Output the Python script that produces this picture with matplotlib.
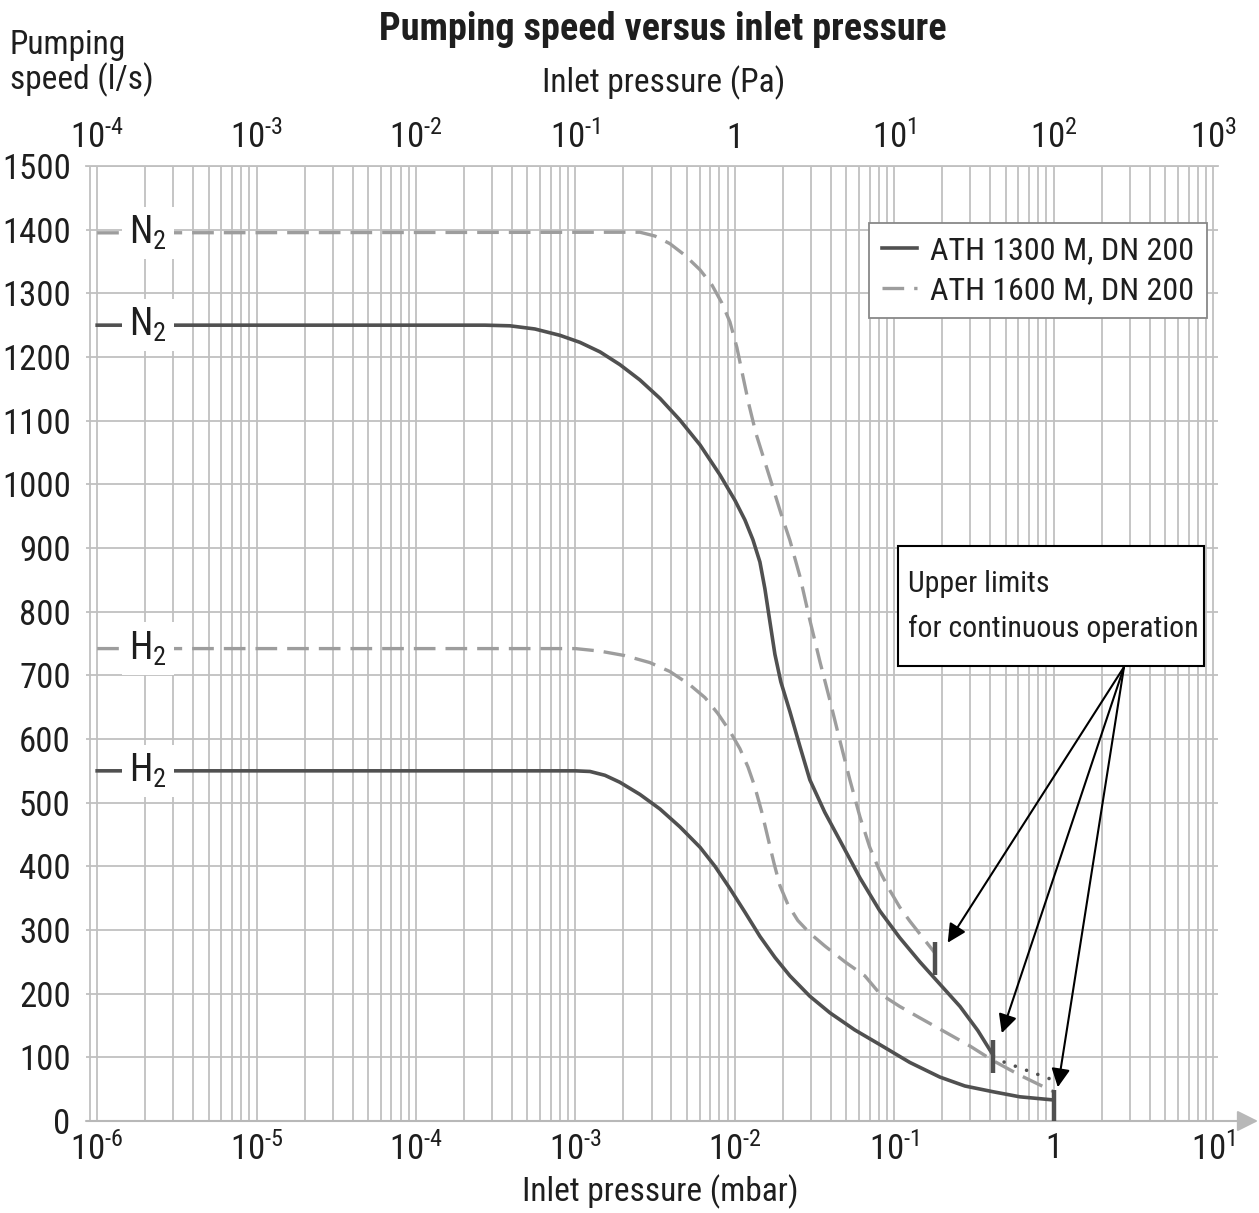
import matplotlib
matplotlib.use("Agg")
import matplotlib.pyplot as plt
from matplotlib.ticker import FixedLocator, LogLocator, NullFormatter, FixedFormatter
from matplotlib.patches import Rectangle

plt.rcParams['font.family'] = ['Roboto Condensed', 'DejaVu Sans']

# ---------------- data (pressure in mbar, speed in l/s) ----------------
p_1300_n2 = [1e-6, 2.71e-4, 3.88e-4, 5.57e-4, 8.0e-4, 1.067e-3, 1.426e-3, 1.90e-3,
             2.535e-3, 3.39e-3, 4.52e-3, 6.04e-3, 8.05e-3, 1.0e-2, 1.156e-2,
             1.297e-2, 1.435e-2, 1.542e-2, 1.656e-2, 1.782e-2, 1.94e-2, 2.213e-2,
             2.56e-2, 2.95e-2, 3.66e-2, 4.55e-2, 6.08e-2, 8.11e-2, 0.108, 0.1445,
             0.193, 0.258, 0.334, 0.415]
s_1300_n2 = [1250, 1250, 1249, 1244, 1234, 1223, 1208, 1188,
             1164, 1135, 1101, 1062, 1015, 975, 944,
             913, 878, 836, 785, 733, 690, 643,
             588, 536, 485, 441, 382, 330, 288, 250,
             215, 180, 142, 104]

p_1300_h2 = [1e-6, 1.0e-3, 1.233e-3, 1.53e-3, 1.90e-3, 2.535e-3, 3.39e-3, 4.52e-3,
             6.04e-3, 7.5e-3, 9.31e-3, 1.156e-2, 1.435e-2, 1.782e-2, 2.213e-2,
             2.95e-2, 3.94e-2, 5.65e-2, 8.11e-2, 0.125, 0.193, 0.277, 0.415,
             0.612, 1.0]
s_1300_h2 = [550, 550, 549, 543, 532, 513, 490, 462,
             430, 400, 365, 328, 290, 257, 228,
             196, 170, 143, 120, 92, 69, 55, 46,
             38, 33]

p_1600_n2 = [1e-6, 2.535e-3, 3.15e-3, 3.91e-3, 4.85e-3, 6.04e-3, 7.18e-3, 8.28e-3,
             9.31e-3, 1.029e-2, 1.122e-2, 1.225e-2, 1.355e-2, 1.52e-2, 1.706e-2,
             1.94e-2, 2.213e-2, 2.56e-2, 2.95e-2, 3.41e-2, 3.94e-2, 4.55e-2,
             5.26e-2, 6.08e-2, 7.01e-2, 8.11e-2, 9.38e-2, 0.108, 0.125, 0.1486,
             0.1795]
s_1600_n2 = [1395, 1396, 1390, 1378, 1360, 1337, 1313, 1285,
             1255, 1215, 1170, 1125, 1080, 1040, 1000,
             955, 912, 855, 787, 722, 661, 598,
             536, 478, 430, 392, 362, 336, 314, 290,
             264]

p_1600_h2 = [1e-6, 1.0e-3, 1.426e-3, 2.04e-3, 2.93e-3, 3.91e-3, 5.22e-3, 6.49e-3,
             7.82e-3, 9.31e-3, 1.074e-2, 1.208e-2, 1.333e-2, 1.475e-2, 1.61e-2,
             1.758e-2, 1.914e-2, 2.15e-2, 2.48e-2, 2.95e-2, 3.66e-2, 4.90e-2,
             6.53e-2, 8.11e-2, 0.108, 0.1445, 0.2075, 0.297, 0.415, 0.612, 1.0]
s_1600_h2 = [742, 742, 738, 731, 720, 706, 685, 665,
             640, 612, 585, 556, 525, 485, 445,
             405, 370, 340, 315, 295, 275, 250,
             228, 200, 180, 162, 140, 118, 95, 72, 46]

# dotted extension of ATH 1300 M (N2)
p_ext = [0.415, 1.0]
s_ext = [99, 64]

# upper limits for continuous operation (vertical bars)
limit_p = [0.1795, 0.415, 1.0]
limit_lo = [229, 75, 0]
limit_hi = [281, 127, 49]
# arrow targets
arrow_p = [0.216, 0.472, 1.06]
arrow_s = [280, 138, 53]

# gas labels
gas_labels = [r'$\mathregular{N_2}$', r'$\mathregular{N_2}$', r'$\mathregular{H_2}$', r'$\mathregular{H_2}$']
gas_levels = [1395, 1250, 742, 550]

HY = '\u2010'
bottom_ticks = [1e-6, 1e-5, 1e-4, 1e-3, 1e-2, 1e-1, 1, 10]
bottom_labels = [r'$\mathregular{10^{%s6}}$' % HY, r'$\mathregular{10^{%s5}}$' % HY,
                 r'$\mathregular{10^{%s4}}$' % HY, r'$\mathregular{10^{%s3}}$' % HY,
                 r'$\mathregular{10^{%s2}}$' % HY, r'$\mathregular{10^{%s1}}$' % HY,
                 '1', r'$\mathregular{10^{1}}$']
top_ticks = [1e-4, 1e-3, 1e-2, 1e-1, 1, 10, 100, 1000]
top_labels = [r'$\mathregular{10^{%s4}}$' % HY, r'$\mathregular{10^{%s3}}$' % HY,
              r'$\mathregular{10^{%s2}}$' % HY, r'$\mathregular{10^{%s1}}$' % HY,
              '1', r'$\mathregular{10^{1}}$', r'$\mathregular{10^{2}}$', r'$\mathregular{10^{3}}$']
y_ticks = list(range(0, 1600, 100))

# ---------------- figure ----------------
W, H = 1259, 1213
fig = plt.figure(figsize=(W / 100, H / 100), dpi=100)


def fx(px):
    return px / W


def fy(py):
    return 1 - py / H


ax = fig.add_axes([fx(86), fy(1121), fx(1218) - fx(86), fy(166) - fy(1121)])
ax.set_xscale('log')
ax.set_xlim(10 ** -6.07, 10 ** 1.03)
ax.set_ylim(0, 1500)

DARK = '#505050'
LIGHT = '#9d9d9d'
GRID = '#c0c0c0'
TXT = '#1e1e1e'

ax.xaxis.set_major_locator(FixedLocator(bottom_ticks))
ax.xaxis.set_major_formatter(FixedFormatter(bottom_labels))
ax.xaxis.set_minor_locator(LogLocator(base=10, subs=range(2, 10), numticks=30))
ax.xaxis.set_minor_formatter(NullFormatter())
ax.yaxis.set_major_locator(FixedLocator(y_ticks))
ax.set_yticklabels([str(v) for v in y_ticks])
ax.grid(which='major', axis='both', color=GRID, lw=1.3, zorder=0)
ax.grid(which='minor', axis='x', color=GRID, lw=1.3, zorder=0)
ax.set_axisbelow(True)
ax.tick_params(axis='both', which='both', length=0, labelcolor=TXT)
ax.tick_params(axis='x', which='major', labelsize=25, pad=8)
ax.tick_params(axis='y', which='major', labelsize=25, pad=11)

for side in ['left', 'right', 'bottom']:
    ax.spines[side].set_visible(False)
ax.spines['top'].set_color(GRID)
ax.spines['top'].set_linewidth(1.3)

# curves
ax.plot(p_1300_n2, s_1300_n2, color=DARK, lw=2.6, zorder=3, label='ATH 1300 M, DN 200')
ax.plot(p_1300_h2, s_1300_h2, color=DARK, lw=2.6, zorder=3)
ax.plot(p_1600_n2, s_1600_n2, color=LIGHT, lw=2.4, zorder=3, dashes=(6.5, 3),
        label='ATH 1600 M, DN 200')
ax.plot(p_1600_h2, s_1600_h2, color=LIGHT, lw=2.4, zorder=3, dashes=(6.5, 3))
ax.plot(p_ext, s_ext, color=DARK, lw=2.6, zorder=3, linestyle=(0, (0.01, 3.3)),
        dash_capstyle='round')

for p, lo, hi in zip(limit_p, limit_lo, limit_hi):
    ax.plot([p, p], [lo, hi], color=DARK, lw=3.2, zorder=4, solid_capstyle='butt', clip_on=False)

# gas labels with white background
for lab, lev in zip(gas_labels, gas_levels):
    ax.text(10 ** -5.68, lev, lab, fontsize=27, ha='center', va='center', zorder=5,
            color=TXT, bbox=dict(facecolor='white', edgecolor='none', pad=5))

# legend
leg = ax.legend(loc='upper right', bbox_to_anchor=(fx(1207), fy(223)),
                bbox_transform=fig.transFigure, borderaxespad=0,
                fontsize=23, handlelength=1.1, handletextpad=0.4,
                frameon=True, fancybox=False, borderpad=0.4, labelspacing=0.35,
                edgecolor='#888888', framealpha=1)
leg.get_frame().set_linewidth(1.3)
leg.set_zorder(6)
for t in leg.get_texts():
    t.set_color(TXT)

# annotation box
rect = Rectangle((fx(898), fy(666)), fx(1204) - fx(898), fy(546) - fy(666),
                 transform=fig.transFigure, facecolor='white', edgecolor='black',
                 lw=1.5, zorder=6)
fig.patches.append(rect)
fig.text(fx(908), fy(584), 'Upper limits', fontsize=21.5, ha='left', va='center', zorder=7,
         color=TXT)
fig.text(fx(908), fy(629), 'for continuous operation', fontsize=21.5, ha='left', va='center',
         zorder=7, color=TXT)

for p, s in zip(arrow_p, arrow_s):
    ax.annotate('', xy=(p, s), xycoords='data', xytext=(fx(1124), fy(667)),
                textcoords='figure fraction',
                arrowprops=dict(arrowstyle='-|>', color='black', lw=1.5,
                                mutation_scale=28, shrinkA=0, shrinkB=0),
                zorder=7, annotation_clip=False)

# bottom axis line with arrow
ax.annotate('', xy=(fx(1258), fy(1121)), xycoords='figure fraction',
            xytext=(fx(86), fy(1121)), textcoords='figure fraction',
            arrowprops=dict(arrowstyle='-|>', color='#b8b8b8', lw=1.5,
                            mutation_scale=32, shrinkA=0, shrinkB=0),
            annotation_clip=False)

# top axis (Pa)
secax = ax.secondary_xaxis('top', functions=(lambda x: x * 100, lambda x: x / 100))
secax.xaxis.set_major_locator(FixedLocator(top_ticks))
secax.xaxis.set_major_formatter(FixedFormatter(top_labels))
secax.xaxis.set_minor_locator(FixedLocator([]))
secax.tick_params(axis='x', which='both', length=0, labelsize=25, pad=8, labelcolor=TXT)
secax.spines['top'].set_visible(False)

# texts
fig.text(fx(663), fy(30), 'Pumping speed versus inlet pressure', fontsize=27.5,
         fontweight='bold', ha='center', va='center', color=TXT)
fig.text(fx(664), fy(83), 'Inlet pressure (Pa)', fontsize=24, ha='center', va='center',
         color=TXT)
fig.text(fx(10), fy(45), 'Pumping', fontsize=24, ha='left', va='center', color=TXT)
fig.text(fx(10), fy(80), 'speed (l/s)', fontsize=24, ha='left', va='center', color=TXT)
fig.text(fx(660), fy(1192), 'Inlet pressure (mbar)', fontsize=24, ha='center', va='center',
         color=TXT)

fig.savefig('out.png', dpi=100)
